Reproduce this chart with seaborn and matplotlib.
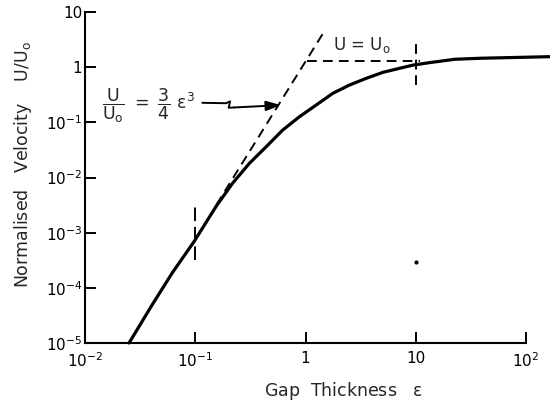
import matplotlib
matplotlib.use("Agg")
import matplotlib.pyplot as plt
import numpy as np
import pandas as pd
import seaborn as sns

# ---- data ----
eps = [0.0251, 0.0406, 0.0618, 0.098, 0.154, 0.218, 0.310, 0.440, 0.622, 0.882,
       1.25, 1.77, 2.51, 3.56, 5.05, 7.16, 9.45, 13.4, 22.6, 38.2, 165.0]
u_ratio = [1.0e-5, 4.9e-5, 1.86e-4, 7.0e-4, 2.96e-3, 7.85e-3, 0.0181, 0.0361, 0.0726, 0.1265,
           0.206, 0.336, 0.475, 0.628, 0.807, 0.955, 1.09, 1.21, 1.39, 1.45, 1.55]

asym_eps = [0.155, 1.43]          # U/U0 = 3/4 eps^3 asymptote (dashed)
asym_u = [3.18e-3, 3.99]
u0_eps = [1.04, 11.0]             # U = U0 asymptote (dashed)
u0_u = [1.29, 1.29]
mark1_eps = [0.1, 0.1]            # vertical dashed marker at eps = 0.1
mark1_u = [3.2e-4, 3.18e-3]
mark2_eps = [10, 10]              # vertical dashed marker at eps = 10
mark2_u = [0.475, 2.86]
speck_eps = [10.0]
speck_u = [2.95e-4]

x_ticks = [0.01, 0.1, 1, 10, 100]
x_tick_labels = [r"$10^{-2}$", r"$10^{-1}$", "1", "10", r"$10^{2}$"]
y_ticks = [1e-5, 1e-4, 1e-3, 1e-2, 1e-1, 1, 10]
y_tick_labels = [r"$10^{-5}$", r"$10^{-4}$", r"$10^{-3}$", r"$10^{-2}$", r"$10^{-1}$", "1", "10"]

# ---- style ----
sns.set_style("ticks")
plt.rcParams["font.family"] = ["DejaVu Sans"]
plt.rcParams["mathtext.fontset"] = "dejavusans"

W, H = 550, 407
fig = plt.figure(figsize=(5.5, 4.07), dpi=100)
L, R, T, B = 85, 526, 12, 343
ax = fig.add_axes([L / W, 1 - B / H, (R - L) / W, (B - T) / H])
ax.set_xscale("log")
ax.set_yscale("log")

df = pd.DataFrame({"eps": eps, "u": u_ratio})
sns.lineplot(data=df, x="eps", y="u", ax=ax, color="black", linewidth=2.3,
             sort=False, clip_on=False, estimator=None)

ax.plot(asym_eps, asym_u, color="black", lw=1.4, dashes=(5, 3.2), clip_on=False)
ax.plot(u0_eps, u0_u, color="black", lw=1.4, dashes=(5, 3.2), clip_on=False)
ax.plot(mark1_eps, mark1_u, color="black", lw=1.4, dashes=(7, 3), clip_on=False)
ax.plot(mark2_eps, mark2_u, color="black", lw=1.4, dashes=(5, 3), clip_on=False)
ax.plot(speck_eps, speck_u, "o", color="black", ms=2, clip_on=False)

ax.set_xlim(0.01, 100)
ax.set_ylim(1e-5, 10)
ax.set_xticks(x_ticks)
ax.set_xticklabels(x_tick_labels)
ax.set_yticks(y_ticks)
ax.set_yticklabels(y_tick_labels)
ax.minorticks_off()
ax.tick_params(axis="both", direction="in", length=8, width=1.4, labelsize=11,
               color="black", labelcolor="black")
ax.tick_params(axis="x", pad=6)
ax.tick_params(axis="y", pad=2)

for s in ["top", "right"]:
    ax.spines[s].set_visible(False)
for s in ["left", "bottom"]:
    ax.spines[s].set_linewidth(1.5)
    ax.spines[s].set_color("black")

ax.set_xlabel(r"Gap  Thickness   $\mathregular{\varepsilon}$", fontsize=12.5)
ax.xaxis.set_label_coords(0.585, -0.112)
ax.set_ylabel(r"Normalised   Velocity    U/U$_\mathregular{o}$", fontsize=12.5)
ax.yaxis.set_label_coords(-0.115, 0.54)

# annotation: U/U0 = 3/4 eps^3 with zig-zag arrow
ax.text(0.0143, 0.198,
        r"$\dfrac{\mathregular{U}}{\mathregular{U_o}}\ \mathregular{=}\ \dfrac{\mathregular{3}}{\mathregular{4}}\ \mathregular{\varepsilon^{3}}$",
        fontsize=12.5, ha="left", va="center")
zig_eps = [0.116, 0.190, 0.207, 0.201, 0.226]
zig_u = [0.226, 0.222, 0.240, 0.184, 0.186]
ax.plot(zig_eps, zig_u, color="black", lw=1.4)
ax.annotate("", xy=(0.60, 0.205), xytext=(0.226, 0.186),
            arrowprops=dict(arrowstyle="-|>,head_length=0.9,head_width=0.3",
                            color="black", lw=1.4, shrinkA=0, shrinkB=0))

ax.text(1.76, 2.52, r"U = U$_\mathregular{o}$", fontsize=12, ha="left", va="center")

fig.savefig("out.png", dpi=100)
